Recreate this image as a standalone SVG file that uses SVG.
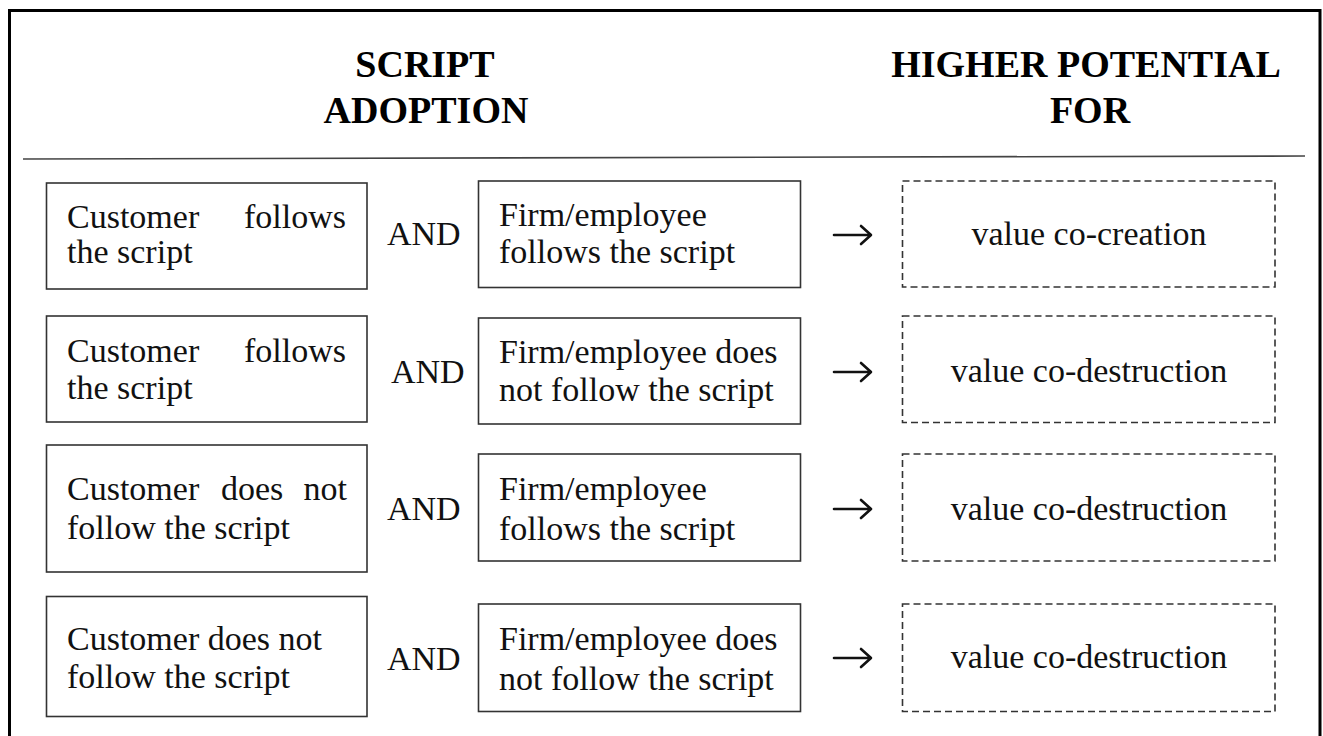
<svg xmlns="http://www.w3.org/2000/svg" width="1323" height="736" viewBox="0 0 1323 736">
<style>
.t{font-family:"Liberation Serif","Times New Roman",serif;font-size:34px;fill:#111}
.h{font-family:"Liberation Serif","Times New Roman",serif;font-size:38px;font-weight:bold;fill:#000;text-anchor:middle}
.c{text-anchor:middle}
.e{text-anchor:end}
.box{fill:#fff;stroke:#333;stroke-width:1.6}
.dash{fill:#fff;stroke:#333;stroke-width:1.6;stroke-dasharray:7 4}
.arr{fill:none;stroke:#111;stroke-width:2.6;stroke-linecap:round;stroke-linejoin:round}
</style>
<rect x="0" y="0" width="1323" height="736" fill="#fff"/>
<rect id="frame" x="9.5" y="10.5" width="1310.5" height="740" fill="none" stroke="#000" stroke-width="3"/>
<g id="header">
<text class="h" x="425" y="77">SCRIPT</text>
<text class="h" x="426" y="123">ADOPTION</text>
<text class="h" x="1086" y="77">HIGHER POTENTIAL</text>
<text class="h" x="1090" y="123">FOR</text>
<line x1="23" y1="159" x2="1305" y2="156" stroke="#444" stroke-width="1.6"/>
</g>
<g id="cust1"><rect class="box" x="46.5" y="183" width="320.5" height="106"/><text class="t" x="67" y="228">Customer</text><text class="t e" x="346" y="228">follows</text><text class="t" x="67" y="263">the script</text></g>
<g id="cust2"><rect class="box" x="46.5" y="316" width="320.5" height="106"/><text class="t" x="67" y="362">Customer</text><text class="t e" x="346" y="362">follows</text><text class="t" x="67" y="399">the script</text></g>
<g id="cust3"><rect class="box" x="46.5" y="445" width="320.5" height="127"/><text class="t" x="67" y="500">Customer</text><text class="t" x="221" y="500">does</text><text class="t e" x="347" y="500">not</text><text class="t" x="67" y="539">follow the script</text></g>
<g id="cust4"><rect class="box" x="46.5" y="596.5" width="320.5" height="120"/><text class="t" x="67" y="650">Customer does not</text><text class="t" x="67" y="688">follow the script</text></g>
<g id="and-labels">
<text class="t" x="387" y="245">AND</text>
<text class="t" x="391" y="383">AND</text>
<text class="t" x="387" y="520">AND</text>
<text class="t" x="387" y="670">AND</text>
</g>
<g id="firm1"><rect class="box" x="478.5" y="181" width="322" height="106.5"/><text class="t" x="499" y="226">Firm/employee</text><text class="t" x="499" y="263">follows the script</text></g>
<g id="firm2"><rect class="box" x="478.5" y="318" width="322" height="106"/><text class="t" x="499" y="363">Firm/employee does</text><text class="t" x="499" y="401">not follow the script</text></g>
<g id="firm3"><rect class="box" x="478.5" y="454" width="322" height="107"/><text class="t" x="499" y="500">Firm/employee</text><text class="t" x="499" y="540">follows the script</text></g>
<g id="firm4"><rect class="box" x="478.5" y="604" width="322" height="107.5"/><text class="t" x="499" y="650">Firm/employee does</text><text class="t" x="499" y="690">not follow the script</text></g>
<g id="connectors">
<path class="arr" d="M834 235H870M861 226L871 235L861 244"/>
<path class="arr" d="M834 372H870M861 363L871 372L861 381"/>
<path class="arr" d="M834 509H870M861 500L871 509L861 518"/>
<path class="arr" d="M834 658H870M861 649L871 658L861 667"/>
</g>
<g id="out1"><rect class="dash" x="902.5" y="181" width="372.5" height="106"/><text class="t c" x="1089" y="245">value co-creation</text></g>
<g id="out2"><rect class="dash" x="902.5" y="316" width="372.5" height="106.5"/><text class="t c" x="1089" y="382">value co-destruction</text></g>
<g id="out3"><rect class="dash" x="902.5" y="454" width="372.5" height="107"/><text class="t c" x="1089" y="520">value co-destruction</text></g>
<g id="out4"><rect class="dash" x="902.5" y="604" width="372.5" height="107.5"/><text class="t c" x="1089" y="668">value co-destruction</text></g>
</svg>
